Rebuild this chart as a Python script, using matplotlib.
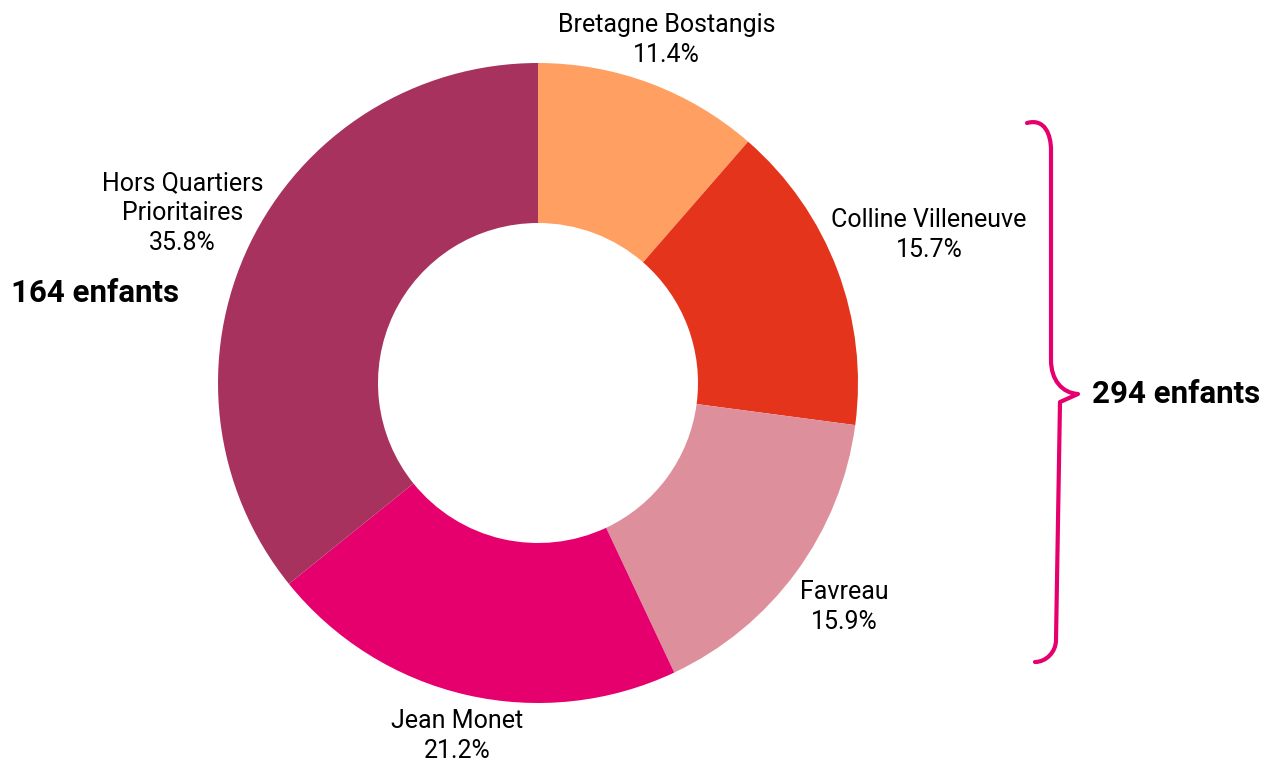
import numpy as np
import matplotlib.pyplot as plt
from matplotlib.path import Path
from matplotlib.patches import PathPatch

plt.rcParams['font.family'] = ['Roboto', 'DejaVu Sans']

# data
quartiers = ["Bretagne Bostangis", "Colline Villeneuve", "Favreau", "Jean Monet",
             "Hors Quartiers\nPrioritaires"]
parts = [11.4, 15.7, 15.9, 21.2, 35.8]
couleurs = ["#FFA062", "#E5341C", "#DE8F9C", "#E5006D", "#A8325E"]
total_hors = "164 enfants"
total_qp = "294 enfants"

# label distance from centre (pixels), one per slice
label_r = [366, 418, 380, 362, 394]

W, H = 1277, 765
fig = plt.figure(figsize=(W / 100, H / 100), dpi=100)
ax = fig.add_axes([0, 0, 1, 1])

cx, cy = 538, H - 383
wedges, _ = ax.pie(parts, colors=couleurs, startangle=90, counterclock=False,
                   radius=320, center=(cx, cy), frame=True,
                   wedgeprops=dict(width=160, edgecolor="none"))
ax.set_xlim(0, W)
ax.set_ylim(0, H)
ax.axis("off")

for w, nom, p, r in zip(wedges, quartiers, parts, label_r):
    a = np.deg2rad((w.theta1 + w.theta2) / 2)
    ax.text(cx + r * np.cos(a), cy + r * np.sin(a), f"{nom}\n{p}%",
            ha="center", va="center", fontsize=18, linespacing=1.32, color="black")

ax.text(95, H - 293, total_hors, ha="center", va="center", fontsize=22.5,
        fontweight="bold", color="black")
ax.text(1176, H - 394, total_qp, ha="center", va="center", fontsize=22.5,
        fontweight="bold", color="black")

# accolade
pts = [(1027, 123), (1045, 118), (1051, 135), (1051, 150),
       (1051, 360),
       (1051, 380), (1062, 393), (1078, 394),
       (1060, 402),
       (1056, 640),
       (1056, 652), (1046, 662), (1035, 662)]
codes = [Path.MOVETO, Path.CURVE4, Path.CURVE4, Path.CURVE4,
         Path.LINETO,
         Path.CURVE4, Path.CURVE4, Path.CURVE4,
         Path.LINETO,
         Path.LINETO,
         Path.CURVE4, Path.CURVE4, Path.CURVE4]
brace = Path([(x, H - y) for x, y in pts], codes)
ax.add_patch(PathPatch(brace, facecolor="none", edgecolor="#E5006D", lw=3,
                       capstyle="round", joinstyle="round"))

fig.savefig("out.png", dpi=100)
